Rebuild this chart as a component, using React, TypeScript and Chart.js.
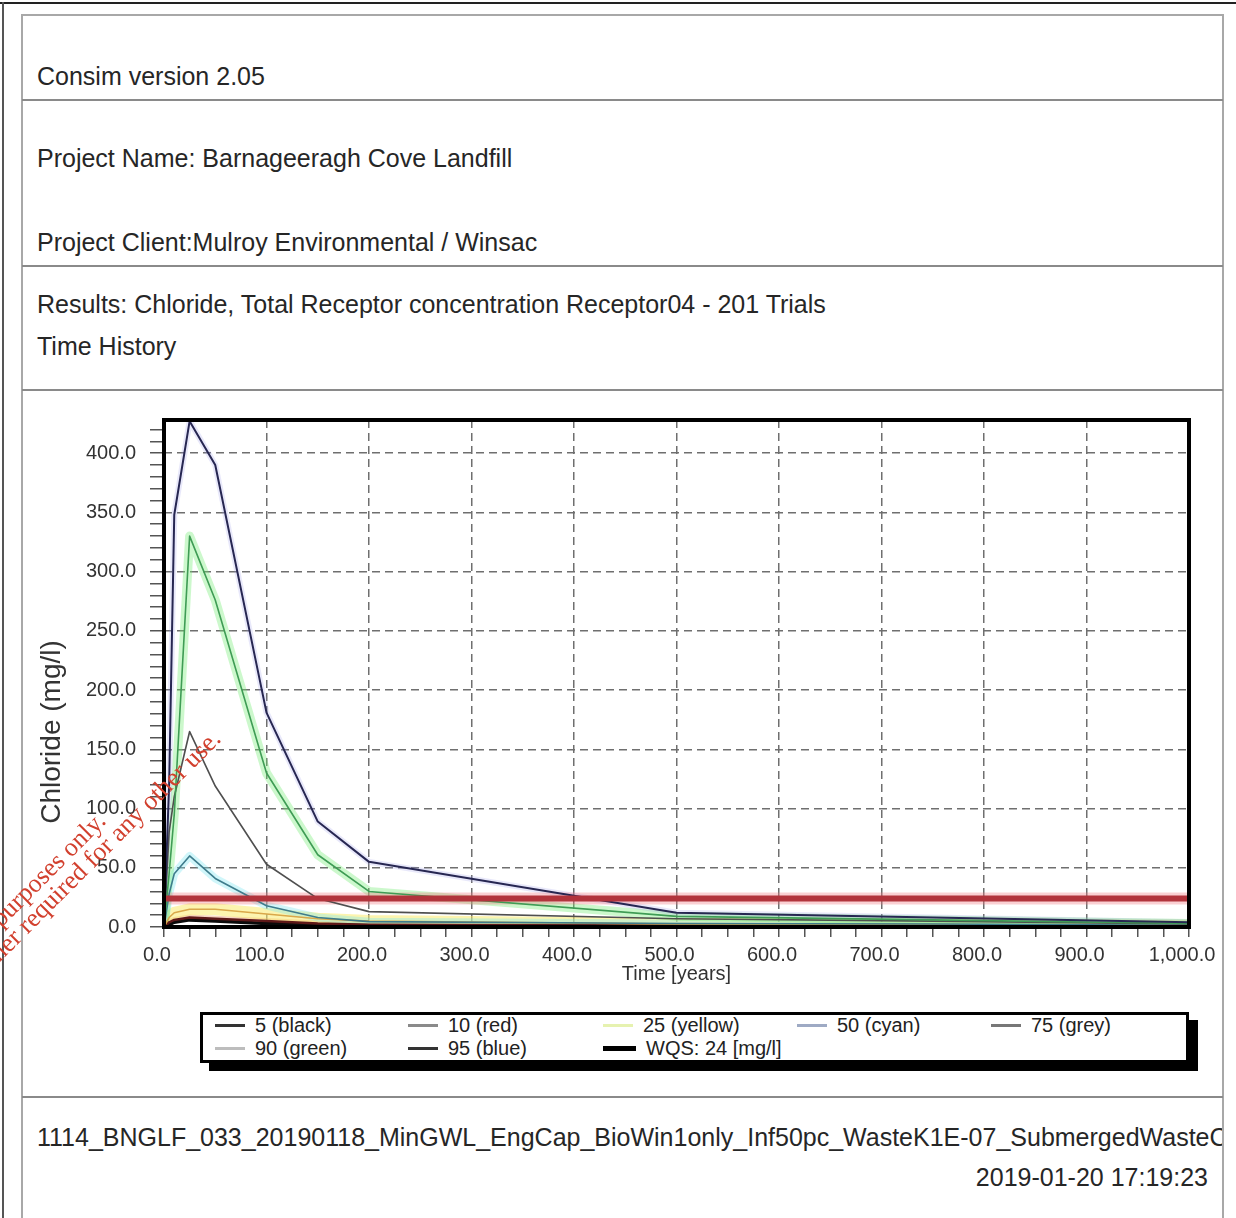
import React, { useEffect, useRef } from 'react';
import { Chart, registerables } from 'chart.js';

Chart.register(...registerables);

// ---------------- data ----------------
const timeYears = [0, 5, 10, 25, 50, 100, 150, 200, 500, 750, 1000];
const p95Blue = [0, 120, 348, 427, 390, 181, 89, 55, 12, 8, 4];
const p90Green = [0, 45, 95, 330, 276, 130, 61, 30, 9, 6, 3];
const p75Grey = [0, 80, 110, 165, 119, 53, 24, 13, 7, 5, 2.5];
const p50Cyan = [0, 28, 45, 60, 41, 18, 8, 4.5, 3, 2.5, 1.5];
const p25Yellow = [0, 8, 12, 15, 15, 11, 7, 5, 2.5, 2, 1];
const p10Red = [0, 4, 6, 8, 7, 5, 3, 2, 1, 1, 0.5];
const p5Black = [0, 2, 4, 6, 5, 3, 2, 1, 0.5, 0.5, 0.3];
const wqsLevel = 24;

const xMajorTicks = [0, 100, 200, 300, 400, 500, 600, 700, 800, 900, 1000];
const xTickLabels = ['0.0', '100.0', '200.0', '300.0', '400.0', '500.0', '600.0', '700.0', '800.0', '900.0', '1,000.0'];
const yMajorTicks = [0, 50, 100, 150, 200, 250, 300, 350, 400];
const yTickLabels = ['0.0', '50.0', '100.0', '150.0', '200.0', '250.0', '300.0', '350.0', '400.0'];

const xAxisTitle = 'Time [years]';
const yAxisTitle = 'Chloride (mg/l)';

const legendLabels = ['5 (black)', '10 (red)', '25 (yellow)', '50 (cyan)', '75 (grey)', '90 (green)', '95 (blue)', 'WQS: 24 [mg/l]'];
const legendSwatches = ['#333333', '#8a8a8a', '#e6f2b0', '#9eaac4', '#777777', '#bdbdbd', '#333333', '#000000'];

const FONT = '"Liberation Sans", Arial, Helvetica, sans-serif';

const framePlugin = {
  id: 'frame',
  afterDraw(chart: any) {
    const { ctx, chartArea: a } = chart;
    ctx.save();
    ctx.strokeStyle = '#000';
    ctx.lineWidth = 4;
    ctx.strokeRect(a.left, a.top, a.right - a.left, a.bottom - a.top);
    ctx.restore();
  },
};

const yTitlePlugin = {
  id: 'yTitleCustom',
  afterDraw(chart: any) {
    const { ctx, chartArea: a } = chart;
    ctx.save();
    ctx.translate(a.left - 112, a.bottom - 195);
    ctx.rotate(-Math.PI / 2);
    ctx.font = '28px ' + FONT;
    ctx.fillStyle = '#333';
    ctx.textAlign = 'center';
    ctx.textBaseline = 'middle';
    ctx.fillText(yAxisTitle, 0, 0);
    ctx.restore();
  },
};

function ChartCanvas() {
  const ref = useRef<HTMLCanvasElement>(null);
  useEffect(() => {
    const canvas = ref.current!;
    const pts = (vals: number[]) => timeYears.map((t, i) => ({ x: t, y: vals[i] }));
    const line = (label: string, data: any[], color: string, width: number, order: number) => ({
      label,
      data,
      borderColor: color,
      backgroundColor: color,
      borderWidth: width,
      pointRadius: 0,
      tension: 0,
      fill: false,
      order,
      borderCapStyle: 'round',
      borderJoinStyle: 'round',
    });
    const wqsData = [
      { x: 0, y: wqsLevel },
      { x: 1000, y: wqsLevel },
    ];
    const chart = new Chart(canvas, {
      type: 'line',
      data: {
        datasets: [
          line('WQS: 24 [mg/l]', wqsData, '#b2343c', 6, 0),
          line('95 (blue)', pts(p95Blue), '#272752', 2, 1),
          line('90 (green)', pts(p90Green), '#3f9c55', 1.6, 2),
          line('75 (grey)', pts(p75Grey), '#4f4f4f', 1.6, 3),
          line('50 (cyan)', pts(p50Cyan), '#3e7c8c', 1.6, 4),
          line('25 (yellow)', pts(p25Yellow), '#d9a84a', 1.6, 5),
          line('10 (red)', pts(p10Red), '#5e1818', 2.5, 6),
          line('5 (black)', pts(p5Black), '#0a0a0a', 3.5, 7),
          // soft halos
          line('wqs halo', wqsData, 'rgba(240,120,130,0.35)', 12, 20),
          line('95 halo', pts(p95Blue), 'rgba(150,150,230,0.22)', 6, 21),
          line('90 halo', pts(p90Green), 'rgba(110,235,110,0.35)', 9, 22),
          line('50 halo', pts(p50Cyan), 'rgba(120,230,240,0.35)', 8, 24),
          line('25 halo', pts(p25Yellow), 'rgba(250,235,110,0.55)', 12, 25),
          line('10 halo', pts(p10Red), 'rgba(230,130,80,0.35)', 6, 26),
        ],
      },
      options: {
        animation: false,
        responsive: false,
        maintainAspectRatio: false,
        devicePixelRatio: 1,
        layout: { padding: { top: 29, right: 33, left: 0, bottom: 0 } },
        plugins: {
          legend: { display: false },
          tooltip: { enabled: false },
          title: { display: false },
        },
        scales: {
          x: {
            type: 'linear',
            min: 0,
            max: 1000,
            afterFit: (s: any) => {
              s.height = 73;
              s.paddingLeft = 0;
              s.paddingRight = 0;
            },
            ticks: {
              stepSize: 25,
              autoSkip: false,
              maxRotation: 0,
              minRotation: 0,
              includeBounds: false,
              padding: 6,
              labelOffset: -7,
              color: '#333',
              font: { size: 20, family: FONT },
              callback: (v: any) => {
                const i = xMajorTicks.indexOf(Number(v));
                return i >= 0 ? xTickLabels[i] : '';
              },
            },
            grid: {
              color: (c: any) => (c.tick && xMajorTicks.includes(c.tick.value) ? '#6f6f6f' : 'rgba(0,0,0,0)'),
              lineWidth: 1.5,
              tickLength: 10,
              tickColor: '#555',
              tickWidth: 1.5,
              tickBorderDash: [],
            },
            border: { display: false, dash: [8, 5] },
            title: {
              display: true,
              text: xAxisTitle,
              color: '#333',
              font: { size: 20, family: FONT },
              padding: { top: 0, bottom: 14 },
            },
          },
          y: {
            type: 'linear',
            min: 0,
            max: 428,
            afterFit: (s: any) => {
              s.width = 141;
              s.paddingTop = 0;
              s.paddingBottom = 0;
            },
            ticks: {
              stepSize: 10,
              autoSkip: false,
              includeBounds: false,
              padding: 14,
              color: '#333',
              font: { size: 20, family: FONT },
              callback: (v: any) => {
                const i = yMajorTicks.indexOf(Number(v));
                return i >= 0 ? yTickLabels[i] : '';
              },
            },
            grid: {
              color: (c: any) => (c.tick && yMajorTicks.includes(c.tick.value) ? '#6f6f6f' : 'rgba(0,0,0,0)'),
              lineWidth: 1.5,
              tickLength: 14,
              tickColor: '#555',
              tickWidth: 1.5,
              tickBorderDash: [],
            },
            border: { display: false, dash: [8, 5] },
            title: { display: false },
          },
        },
      } as any,
      plugins: [framePlugin, yTitlePlugin],
    } as any);
    return () => chart.destroy();
  }, []);
  return (
    <canvas
      ref={ref}
      width={1199}
      height={609}
      style={{ position: 'absolute', left: 23, top: 391, width: 1199, height: 609 }}
    />
  );
}

const textBase: React.CSSProperties = {
  position: 'absolute',
  fontFamily: FONT,
  fontSize: 25,
  lineHeight: '30px',
  color: '#262626',
  whiteSpace: 'nowrap',
};

// baseline -> top for 25px font in 30px line box
const tb = (baseline: number) => baseline - 23;

function Legend() {
  const colX = [12, 205, 400, 594, 788];
  const rowY = [10, 33];
  return (
    <div
      style={{
        position: 'absolute',
        left: 200,
        top: 1012,
        width: 989,
        height: 51,
        boxSizing: 'border-box',
        border: '3px solid #000',
        boxShadow: '9px 8px 0 #000',
        background: '#fff',
      }}
    >
      {legendLabels.map((lab, i) => {
        const r = Math.floor(i / 5);
        const c = i % 5;
        const isWqs = i === legendLabels.length - 1;
        return (
          <div
            key={lab}
            style={{
              position: 'absolute',
              left: colX[c],
              top: rowY[r] - 11,
              height: 22,
              display: 'flex',
              alignItems: 'center',
              whiteSpace: 'nowrap',
            }}
          >
            <span
              style={{
                display: 'inline-block',
                width: isWqs ? 33 : 30,
                height: isWqs ? 5 : 3,
                background: legendSwatches[i],
                marginRight: 10,
              }}
            />
            <span style={{ fontFamily: FONT, fontSize: 20, color: '#222', lineHeight: '22px' }}>{lab}</span>
          </div>
        );
      })}
    </div>
  );
}

export default function App() {
  return (
    <div
      style={{
        position: 'absolute',
        left: 0,
        top: 0,
        width: 1236,
        height: 1218,
        overflow: 'hidden',
        background: '#fff',
      }}
    >
      {/* outer page edges */}
      <div style={{ position: 'absolute', left: 0, top: 2, width: 1236, height: 2, background: '#222' }} />
      <div style={{ position: 'absolute', left: 2, top: 2, width: 2, height: 1216, background: '#555' }} />
      {/* inner panel */}
      <div
        style={{
          position: 'absolute',
          left: 21,
          top: 14,
          width: 1203,
          height: 1300,
          boxSizing: 'border-box',
          border: '2px solid #a8a8a8',
        }}
      />
      {[99, 265, 389, 1096].map((y) => (
        <div key={y} style={{ position: 'absolute', left: 22, top: y, width: 1201, height: 2, background: '#8a8a8a' }} />
      ))}

      <div style={{ ...textBase, left: 37, top: tb(84) }}>Consim version 2.05</div>
      <div style={{ ...textBase, left: 37, top: tb(166) }}>Project Name: Barnageeragh Cove Landfill</div>
      <div style={{ ...textBase, left: 37, top: tb(250) }}>Project Client:Mulroy Environmental / Winsac</div>
      <div style={{ ...textBase, left: 37, top: tb(312) }}>
        Results: Chloride, Total Receptor concentration Receptor04 - 201 Trials
      </div>
      <div style={{ ...textBase, left: 37, top: tb(354) }}>Time History</div>

      <ChartCanvas />
      <Legend />

      <div style={{ position: 'absolute', left: 23, top: tb(1145), width: 1199, height: 30, overflow: 'hidden' }}>
        <div style={{ ...textBase, left: 14, top: 0 }}>
          1114_BNGLF_033_20190118_MinGWL_EngCap_BioWin1only_Inf50pc_WasteK1E-07_SubmergedWasteCell
        </div>
      </div>
      <div style={{ ...textBase, right: 1236 - 1208, top: tb(1185) }}>2019-01-20 17:19:23</div>

      {/* watermark */}
      <div
        style={{
          position: 'absolute',
          left: 112 - 700,
          top: 827 - 30,
          width: 700,
          height: 30,
          textAlign: 'right',
          transformOrigin: '100% 100%',
          transform: 'rotate(-45deg)',
          fontFamily: '"Liberation Serif", "Times New Roman", serif',
          fontSize: 26,
          lineHeight: '30px',
          color: '#d2402e',
          whiteSpace: 'nowrap',
        }}
      >
        For inspection purposes only.
      </div>
      <div
        style={{
          position: 'absolute',
          left: 227 - 700,
          top: 745 - 30,
          width: 700,
          height: 30,
          textAlign: 'right',
          transformOrigin: '100% 100%',
          transform: 'rotate(-45deg)',
          fontFamily: '"Liberation Serif", "Times New Roman", serif',
          fontSize: 26,
          lineHeight: '30px',
          color: '#d2402e',
          whiteSpace: 'nowrap',
        }}
      >
        Consent of copyright owner required for any other use.
      </div>
    </div>
  );
}
